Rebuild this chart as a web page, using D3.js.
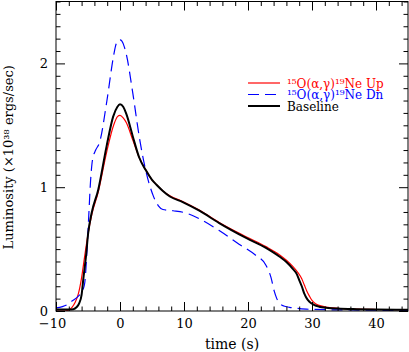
<!DOCTYPE html>
<html>
<head>
<meta charset="utf-8">
<script src="https://cdn.jsdelivr.net/npm/d3@7"></script>
<style>
    body { margin: 0; background: #fff; }
    svg text { font-family: 'DejaVu Serif', serif; font-weight: normal; }
</style>
</head>
<body>
<div id="chart"></div>
<script>
// time (s) and luminosity (10^38 erg/s)
const timeBase = [-10, -8, -7.3, -6.8, -6.4, -6, -5.75, -5.3, -4.97, -4.44, -3.4, -2.1, -1.07, -0.4, 0, 0.5, 1, 2, 3, 4, 5, 5.7, 6.7, 7.8, 9.8, 12.4, 15.5, 19.7, 22.8, 24.9, 26, 27, 27.6, 28, 28.4, 28.8, 29.2, 29.6, 30.3, 31.1, 32.5, 34, 37, 40, 45];
const lumBase = [0.012, 0.012, 0.015, 0.03, 0.06, 0.13, 0.25, 0.45, 0.63, 0.79, 0.98, 1.33, 1.57, 1.65, 1.67, 1.65, 1.59, 1.41, 1.24, 1.14, 1.06, 1.02, 0.97, 0.925, 0.88, 0.81, 0.71, 0.59, 0.51, 0.44, 0.395, 0.34, 0.3, 0.25, 0.2, 0.14, 0.1, 0.075, 0.05, 0.035, 0.025, 0.02, 0.015, 0.012, 0.01];

const timeUp = [-10, -8.5, -8, -7.5, -7, -6.5, -6, -5.5, -5, -4.4, -3.4, -2.1, -1, -0.4, 0, 0.5, 1, 2, 3, 4, 5, 5.7, 6.7, 7.8, 9.8, 12.4, 15.5, 19.7, 22.8, 24.9, 26, 27, 27.8, 28.4, 28.8, 29.2, 29.6, 30, 30.5, 31.1, 32.5, 34, 37, 40, 45];
const lumUp = [0, 0, 0.01, 0.03, 0.07, 0.14, 0.27, 0.45, 0.62, 0.78, 0.96, 1.28, 1.5, 1.57, 1.58, 1.56, 1.52, 1.38, 1.24, 1.14, 1.06, 1.02, 0.97, 0.93, 0.885, 0.815, 0.715, 0.6, 0.52, 0.455, 0.41, 0.36, 0.31, 0.26, 0.21, 0.16, 0.12, 0.085, 0.06, 0.045, 0.03, 0.022, 0.015, 0.012, 0.01];

const timeDn = [-10, -9, -8.3, -7.5, -6.5, -5.8, -5.5, -5.2, -4.9, -4.6, -4.3, -3.8, -3.2, -2.1, -1.04, -0.7, -0.3, 0, 0.3, 0.7, 1, 2, 3, 4, 5.2, 6, 6.7, 8.3, 10.4, 12.4, 15.5, 18.6, 21.2, 22.8, 23.6, 24.1, 24.5, 24.9, 25.6, 26.5, 29.1, 32.7, 36, 40, 45];
const lumDn = [0.025, 0.035, 0.05, 0.08, 0.12, 0.17, 0.23, 0.45, 0.75, 1.05, 1.22, 1.3, 1.36, 1.68, 2.05, 2.14, 2.185, 2.19, 2.18, 2.13, 2.07, 1.76, 1.41, 1.14, 0.93, 0.85, 0.82, 0.81, 0.79, 0.745, 0.65, 0.54, 0.45, 0.37, 0.27, 0.16, 0.1, 0.065, 0.04, 0.03, 0.015, 0.01, 0.008, 0.006, 0.005];

const xMajor = [-10, 0, 10, 20, 30, 40];
const yMajor = [0, 1, 2];
const legendLabels = ['\u00b9\u2075O(\u03b1,\u03b3)\u00b9\u2079Ne Up', '\u00b9\u2075O(\u03b1,\u03b3)\u00b9\u2079Ne Dn', 'Baseline'];

const width = 409;
const height = 352;
const margin = {top: 1.5, right: 1, bottom: 41, left: 56};

const svg = d3.select('#chart')
    .append('svg')
    .attr('width', width)
    .attr('height', height);

const x = d3.scaleLinear()
    .domain([-10, 45])
    .range([margin.left, width - margin.right]);
const y = d3.scaleLinear()
    .domain([0, 2.5])
    .range([height - margin.bottom, margin.top]);

const frameB = y(0), frameT = y(2.5), frameL = x(-10), frameR = x(45);

const series = [
    {name: 'up', t: timeUp, l: lumUp, color: '#ff0000', width: 1.2, dash: null},
    {name: 'dn', t: timeDn, l: lumDn, color: '#0000ff', width: 1.2, dash: '11,6'},
    {name: 'base', t: timeBase, l: lumBase, color: '#000000', width: 2, dash: null}
];

const line = d3.line()
    .x(d => x(d[0]))
    .y(d => y(d[1]))
    .curve(d3.curveMonotoneX);

svg.append('clipPath').attr('id', 'clip')
    .append('rect')
    .attr('x', frameL).attr('y', frameT)
    .attr('width', frameR - frameL).attr('height', frameB - frameT);

svg.append('g').attr('clip-path', 'url(#clip)')
    .selectAll('path')
    .data(series)
    .enter()
    .append('path')
        .attr('d', s => line(s.t.map((t, i) => [t, s.l[i]])))
        .attr('fill', 'none')
        .attr('stroke', s => s.color)
        .attr('stroke-width', s => s.width)
        .attr('stroke-dasharray', s => s.dash)
        .attr('stroke-linejoin', 'round');

// axes: inward ticks on all four sides
const xMinor = d3.range(-10, 45.01, 2).filter(v => !xMajor.includes(v));
const yMinor = d3.range(0, 2.501, 0.1).map(v => +v.toFixed(1)).filter(v => !yMajor.includes(v));
const fmt = d => d < 0 ? '\u2212' + Math.abs(d) : String(d);

function addAxis(axisFn, scale, transform, values, size, labels) {
    const g = svg.append('g')
        .attr('transform', transform)
        .call(axisFn(scale)
            .tickValues(values)
            .tickSize(size)
            .tickPadding(labels ? 8 : 0)
            .tickFormat(labels ? fmt : ''));
    g.select('.domain').remove();
    g.selectAll('line').attr('stroke', '#000');
    g.selectAll('text')
        .attr('fill', '#000')
        .style('font-size', '13px')
        .style('font-family', "'DejaVu Serif', serif");
    return g;
}

const xAxis = addAxis(d3.axisBottom, x, `translate(0,${frameB})`, xMajor, -9, true);
addAxis(d3.axisBottom, x, `translate(0,${frameB})`, xMinor, -4.5, false);
addAxis(d3.axisTop, x, `translate(0,${frameT})`, xMajor, -9, false);
addAxis(d3.axisTop, x, `translate(0,${frameT})`, xMinor, -4.5, false);
addAxis(d3.axisLeft, y, `translate(${frameL},0)`, yMajor, -9, true);
addAxis(d3.axisLeft, y, `translate(${frameL},0)`, yMinor, -4.5, false);
addAxis(d3.axisRight, y, `translate(${frameR},0)`, yMajor, -9, false);
addAxis(d3.axisRight, y, `translate(${frameR},0)`, yMinor, -4.5, false);

xAxis.selectAll('.tick text').filter(d => d < 0).attr('dx', -4);

svg.append('rect')
    .attr('x', frameL).attr('y', frameT)
    .attr('width', frameR - frameL).attr('height', frameB - frameT)
    .attr('fill', 'none')
    .attr('stroke', '#000')
    .attr('stroke-width', 1);

// axis titles
svg.append('text')
    .attr('x', (frameL + frameR) / 2)
    .attr('y', 349)
    .attr('text-anchor', 'middle')
    .style('font-size', '14px')
    .text('time (s)');

svg.append('text')
    .attr('transform', `translate(13,${(frameT + frameB) / 2 + 1}) rotate(-90)`)
    .attr('text-anchor', 'middle')
    .style('font-size', '13px')
    .text('Luminosity (\u00d710\u00b3\u2078 ergs/sec)');

// legend
const legend = svg.append('g')
    .selectAll('.legend')
    .data(series)
    .enter()
    .append('g')
        .classed('legend', true)
        .attr('transform', (d, i) => `translate(248,${83 + i * 11.5})`);

legend.append('line')
    .attr('x1', 0).attr('x2', 32)
    .attr('stroke', d => d.color)
    .attr('stroke-width', d => d.width)
    .attr('stroke-dasharray', d => d.dash);

legend.append('text')
    .attr('x', 39)
    .attr('y', 4.5)
    .attr('fill', d => d.color)
    .style('font-size', '12px')
    .text((d, i) => legendLabels[i]);
</script>
</body>
</html>
